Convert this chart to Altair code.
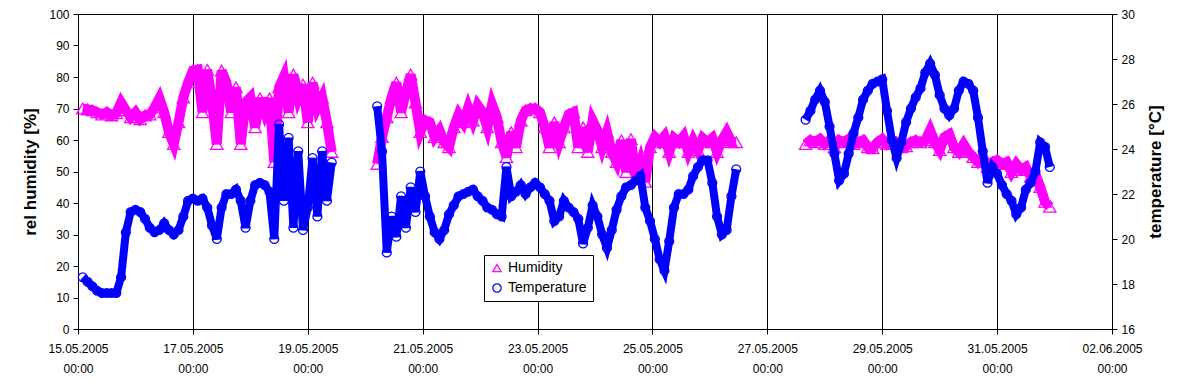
import altair as alt
import pandas as pd

seg_starts = ["2005-05-15T02:00:00", "2005-05-20T05:00:00", "2005-05-27T16:00:00"]

hum_1 = [70.0, 69.7, 69.4, 68.8, 68.1, 68.8, 67.8, 68.5, 71.9, 69.4,
         67.2, 68.8, 66.6, 67.8, 68.1, 70.3, 73.2, 68.8, 62.5, 58.7,
         65.6, 73.5, 78.2, 82.0, 82.3, 68.8, 82.3, 71.9, 58.7, 82.0,
         78.2, 68.8, 76.7, 58.7, 71.9, 73.5, 64.0, 73.2, 68.8, 73.2,
         53.0, 76.7, 80.1, 68.8, 80.8, 73.5, 77.6, 65.6, 78.2, 70.3,
         73.5, 65.6, 56.2]
temp_1 = [18.3, 18.1, 17.9, 17.7, 17.6, 17.6, 17.6, 17.6, 18.3, 20.3,
          21.2, 21.3, 21.2, 20.9, 20.5, 20.3, 20.4, 20.7, 20.4, 20.2,
          20.4, 21.0, 21.7, 21.8, 21.7, 21.8, 21.4, 20.6, 20.0, 21.4,
          22.0, 22.0, 22.2, 21.7, 20.5, 21.7, 22.4, 22.5, 22.4, 22.1,
          20.0, 25.1, 21.7, 24.5, 20.5, 23.9, 20.4, 21.4, 23.6, 21.0,
          23.9, 21.7, 23.4]

hum_2 = [52.4, 60.9, 67.2, 73.5, 78.2, 68.8, 75.1, 80.8, 71.9, 62.5,
         66.2, 65.6, 60.9, 63.1, 59.3, 57.7, 64.0, 68.1, 65.6, 70.3,
         66.2, 71.0, 68.8, 64.0, 71.3, 67.2, 59.3, 54.6, 62.5, 57.7,
         66.2, 69.4, 70.0, 70.0, 68.8, 64.0, 57.7, 65.6, 59.3, 64.0,
         68.1, 68.8, 57.7, 64.0, 56.2, 66.2, 63.1, 57.7, 62.5, 56.2,
         53.0, 59.9, 49.8, 60.3, 48.3, 53.0, 46.7, 57.7, 60.9, 59.3,
         61.2, 56.2, 60.6, 59.3, 61.2, 56.2, 59.9, 56.8, 60.6, 59.3,
         60.6, 56.2, 59.9, 62.5, 59.3, 59.3]
temp_2 = [25.9, 23.9, 19.4, 21.0, 20.1, 21.9, 20.5, 22.3, 21.2, 23.0,
          21.9, 21.0, 20.3, 20.0, 20.4, 21.1, 21.5, 21.9, 22.0, 22.1,
          22.2, 21.9, 21.7, 21.4, 21.3, 21.1, 21.0, 23.2, 21.9, 22.1,
          22.4, 22.0, 22.3, 22.5, 22.3, 22.0, 21.7, 20.8, 21.0, 21.7,
          21.4, 21.2, 20.9, 19.8, 20.5, 21.5, 21.0, 20.2, 19.6, 20.4,
          21.3, 21.9, 22.3, 22.4, 22.6, 22.8, 21.4, 20.8, 20.0, 19.1,
          18.6, 19.9, 21.4, 22.0, 22.0, 22.2, 22.8, 23.2, 23.5, 23.5,
          22.5, 21.0, 20.2, 20.4, 21.9, 23.1]

hum_3 = [58.7, 59.9, 59.3, 60.3, 58.7, 59.9, 57.7, 59.9, 59.3, 60.3,
         58.7, 59.3, 59.9, 57.7, 57.4, 59.3, 60.3, 58.7, 59.9, 59.3,
         57.7, 58.0, 59.3, 59.9, 59.3, 59.9, 63.1, 59.3, 56.8, 60.9,
         61.8, 57.7, 56.2, 58.7, 56.2, 54.6, 53.0, 54.6, 51.4, 53.0,
         53.6, 52.4, 53.0, 49.8, 52.4, 50.5, 51.4, 48.3, 49.2, 45.1,
         40.4, 38.8]
temp_3 = [25.3, 25.7, 26.2, 26.6, 26.1, 25.0, 23.8, 22.6, 22.9, 23.8,
          24.7, 25.4, 26.2, 26.6, 26.9, 27.0, 27.1, 25.7, 24.4, 23.6,
          24.3, 25.2, 25.8, 26.3, 26.7, 27.4, 27.8, 27.3, 26.4, 25.8,
          25.5, 25.8, 26.6, 27.0, 26.9, 26.6, 25.4, 23.9, 22.5, 23.2,
          22.9, 22.4, 22.0, 21.7, 21.1, 21.4, 22.2, 22.5, 23.0, 24.3,
          24.1, 23.2]

series_names = ["Humidity", "Temperature"]
series_colors = ["#FF00FF", "#0000FF"]
series_shapes = ["triangle-up", "circle"]

x_tick_dates = [(2005, 5, 15), (2005, 5, 17), (2005, 5, 19), (2005, 5, 21),
                (2005, 5, 23), (2005, 5, 25), (2005, 5, 27), (2005, 5, 29),
                (2005, 5, 31), (2005, 6, 2)]
hum_ticks = [0, 10, 20, 30, 40, 50, 60, 70, 80, 90, 100]
temp_ticks = [16, 18, 20, 22, 24, 26, 28, 30]

# ---- build table ----
rows = []
for k, (start, hs, ts) in enumerate(zip(seg_starts, [hum_1, hum_2, hum_3], [temp_1, temp_2, temp_3])):
    times = pd.date_range(start, periods=len(hs), freq="2h")
    for tm, hv, tv in zip(times, hs, ts):
        rows.append({"time": tm.strftime("%Y-%m-%dT%H:%M:%S"), "seg": k,
                     "humidity": hv, "temperature": tv})
df = pd.DataFrame(rows)

FONT = "Liberation Sans"

x_vals = [alt.DateTime(year=y, month=m, date=d, hours=0) for (y, m, d) in x_tick_dates]
x_enc = alt.X(
    "time:T",
    scale=alt.Scale(domain=[x_vals[0], x_vals[-1]], nice=False),
    axis=alt.Axis(values=x_vals, title=None, grid=True, gridColor="black",
                  gridOpacity=1, gridWidth=1, tickSize=5, labelPadding=9,
                  labelExpr="[timeFormat(datum.value, '%d.%m.%Y'), timeFormat(datum.value, '%H:%M')]",
                  labelLineHeight=20, labelFontSize=12, labelAngle=0,
                  labelOverlap=False, labelFlush=False),
)

hum_y = alt.Y(
    "humidity:Q",
    scale=alt.Scale(domain=[0, 100], nice=False, zero=False),
    axis=alt.Axis(values=hum_ticks, title="rel humidity [%]", grid=False,
                  tickSize=5, labelPadding=4, labelFontSize=12,
                  titleFontSize=17, titleFontWeight="bold", titlePadding=9),
)
temp_y = alt.Y(
    "temperature:Q",
    scale=alt.Scale(domain=[16, 30], nice=False, zero=False),
    axis=alt.Axis(orient="right", values=temp_ticks, title="temperature [°C]",
                  grid=False, tickSize=5, labelPadding=4, labelFontSize=12,
                  titleFontSize=17, titleFontWeight="bold", titlePadding=30,
                  titleAngle=270),
)

leg = alt.Legend(title=None, orient="none", legendX=406, legendY=241,
                 direction="vertical", fillColor="white", strokeColor="black",
                 padding=6, labelFontSize=14, labelFont=FONT, labelColor="black",
                 symbolSize=70, symbolStrokeWidth=1.2, rowPadding=6)
color_enc = alt.Color("series:N", scale=alt.Scale(domain=series_names, range=series_colors), legend=leg)
shape_enc = alt.Shape("series:N", scale=alt.Scale(domain=series_names, range=series_shapes), legend=leg)

base = alt.Chart(df)

hum_line = base.mark_line(color=series_colors[0], strokeWidth=10).encode(
    x=x_enc, y=hum_y, detail="seg:N")
hum_pts = base.transform_calculate(series="'Humidity'").mark_point(
    filled=False, size=150, strokeWidth=1.3, opacity=1).encode(
    x=x_enc, y=hum_y, color=color_enc, shape=shape_enc)

temp_line = base.mark_line(color=series_colors[1], strokeWidth=8).encode(
    x=x_enc, y=temp_y, detail="seg:N")
temp_pts = base.transform_calculate(series="'Temperature'").mark_point(
    filled=False, size=80, strokeWidth=1.3, opacity=1).encode(
    x=x_enc, y=temp_y, color=color_enc, shape=shape_enc)

hum_layer = alt.layer(hum_line, hum_pts)
temp_layer = alt.layer(temp_line, temp_pts)

chart = (
    alt.layer(hum_layer, temp_layer)
    .resolve_scale(y="independent")
    .properties(width=1034, height=315,
                autosize=alt.AutoSizeParams(type="none"),
                padding={"left": 70, "top": 6, "right": 80, "bottom": 46})
    .configure_view(stroke="black", strokeWidth=1)
    .configure_axis(labelFont=FONT, titleFont=FONT, labelColor="black",
                    titleColor="black", domainColor="black", tickColor="black",
                    domainWidth=1, tickWidth=1)
)

chart.save("out.html", embed_options={"renderer": "svg", "actions": False})
